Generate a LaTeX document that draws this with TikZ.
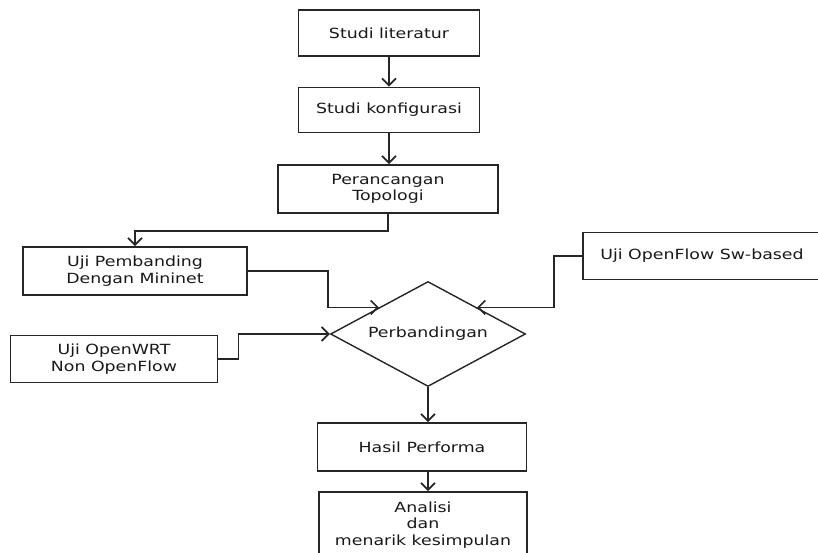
\documentclass[tikz,border=0pt]{standalone}
\usepackage{fontspec}
\setmainfont{DejaVu Sans}[FakeStretch=1.24]
\usetikzlibrary{arrows.meta,shapes.geometric,calc}
\tikzset{
    >={Straight Barb[length=7pt,width=14pt]},
    kotak/.style={
        rectangle,
        draw=black!85, line width=1.9pt,
        align=center,
        inner sep=0pt,
        text=black!90,
        font={\fontsize{14pt}{16.5pt}\selectfont}
    },
    keputusan/.style={
        diamond,
        draw=black!85, line width=1.4pt,
        inner sep=0pt,
        minimum width=195pt,
        minimum height=105pt,
        label={[text=black!90, font={\fontsize{14pt}{17pt}\selectfont}]center:#1}
    },
    line/.style={draw=black!85, line width=1.7pt, ->},
}

\begin{document}
\begin{tikzpicture}[x=1pt, y=-1pt]
\useasboundingbox (0,0) rectangle (818,552);

% kotak proses
\foreach \nama/\x/\y/\lebar/\tinggi/\teks in {
    lit/389/33/181/46/{Studi literatur},
    konf/389/110/181/45/{Studi konfigurasi},
    topo/388/189/220/48/{Perancangan\\Topologi},
    mininet/135/271/224/48/{Uji Pembanding\\Dengan Mininet},
    openwrt/114/359/207/47/{Uji OpenWRT\\Non OpenFlow},
    swbased/702/256/238/47/{Uji OpenFlow Sw-based},
    hasil/422/447/209/48/{Hasil Performa},
    analisi/423/525/208/66/{Analisi\\dan\\menarik kesimpulan}}
  \node [kotak, minimum width=\lebar pt, minimum height=\tinggi pt] (\nama) at (\x,\y) {\teks};

\node [keputusan=Perbandingan] (banding) at (428,334) {};

% alur
\foreach \a/\b in {lit/konf, konf/topo}
  \draw [line] (\a.south) -- (\a.south |- \b.north);

\draw [line] (topo.south) -- ++(0,17) -| (mininet.north);
\draw [line] (mininet.east) -- ++(80,0) |- (banding.north west);
\draw [line] (openwrt.east) -- ++(20,0) |- (banding.west);
\draw [line] (swbased.west) -- ++(-28,0) |- (banding.north east);

\draw [line] (banding.south) -- (banding.south |- hasil.north);
\draw [line] (banding.south |- hasil.south) -- (banding.south |- analisi.north);

\end{tikzpicture}
\end{document}
